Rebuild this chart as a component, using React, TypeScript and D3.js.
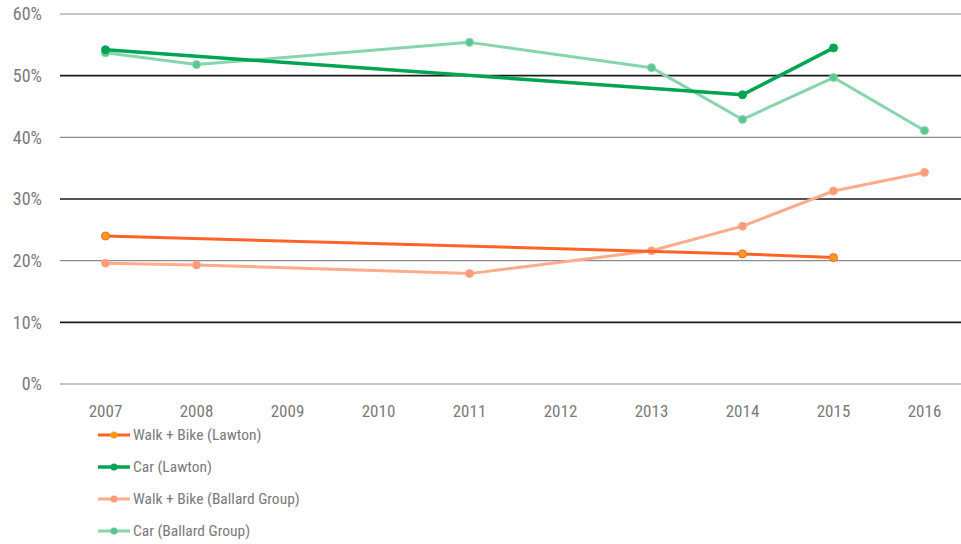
import React, { useEffect, useRef } from "react";
import * as d3 from "d3";

const years = ["2007", "2008", "2009", "2010", "2011", "2012", "2013", "2014", "2015", "2016"];
const yTicks = [0, 0.1, 0.2, 0.3, 0.4, 0.5, 0.6];

// null = no survey that year
const walkBikeLawton = [0.24, null, null, null, null, null, null, 0.211, 0.205, null];
const carLawton = [0.542, null, null, null, null, null, null, 0.469, 0.545, null];
const walkBikeBallard = [0.196, 0.193, null, null, 0.179, null, 0.216, 0.256, 0.313, 0.343];
const carBallard = [0.537, 0.518, null, null, 0.554, null, 0.513, 0.429, 0.497, 0.411];

interface ISeries {
    name: string;
    values: (number | null)[];
    line: string;
    marker: string;
    width: number;
}

const series: ISeries[] = [
    { name: "Walk + Bike (Lawton)", values: walkBikeLawton, line: "#ff6426", marker: "#ff9a1a", width: 3 },
    { name: "Car (Lawton)", values: carLawton, line: "#00a552", marker: "#00a552", width: 3.5 },
    { name: "Walk + Bike (Ballard Group)", values: walkBikeBallard, line: "#ffab8c", marker: "#ff9a78", width: 3 },
    { name: "Car (Ballard Group)", values: carBallard, line: "#86d5ad", marker: "#5cc690", width: 3 },
];

const width = 961;
const height = 544;
const fontFamily = "'Roboto Condensed', 'Liberation Sans Narrow', 'DejaVu Sans Condensed', Roboto, sans-serif";

export default function App(): React.ReactElement {
    const svgRef = useRef<SVGSVGElement>(null);

    useEffect(() => {
        const svg = d3.select(svgRef.current);
        svg.selectAll("*").remove();

        const x = d3.scalePoint<string>().domain(years).range([60, 970]).padding(0.5);
        const y = d3.scaleLinear().domain([0, 0.6]).range([384, 14]);

        // Grid lines, alternating grey / black
        svg.append("g")
            .selectAll("line")
            .data(yTicks)
            .enter()
            .append("line")
            .attr("x1", 60)
            .attr("x2", 970)
            .attr("y1", (d) => y(d))
            .attr("y2", (d) => y(d))
            .attr("stroke", (d, i) => (i % 2 === 1 ? "#1a1a1a" : "#8c8c8c"))
            .attr("stroke-width", (d, i) => (i % 2 === 1 ? 1.6 : 1.2));

        svg.append("g")
            .selectAll("text")
            .data(yTicks)
            .enter()
            .append("text")
            .attr("x", 42)
            .attr("y", (d) => y(d))
            .attr("dy", "0.35em")
            .attr("text-anchor", "end")
            .attr("fill", "#7a7a7a")
            .style("font-family", fontFamily)
            .style("font-size", "18px")
            .text((d) => d3.format(".0%")(d));

        svg.append("g")
            .selectAll("text")
            .data(years)
            .enter()
            .append("text")
            .attr("x", (d) => x(d) as number)
            .attr("y", 411)
            .attr("dy", "0.35em")
            .attr("text-anchor", "middle")
            .attr("fill", "#7a7a7a")
            .style("font-family", fontFamily)
            .style("font-size", "17px")
            .text((d) => d);

        const line = d3.line<[string, number]>()
            .x((d) => x(d[0]) as number)
            .y((d) => y(d[1]));

        // draw Ballard first so Lawton lines sit on top
        const order = [3, 2, 1, 0];
        order.forEach((idx) => {
            const s = series[idx];
            const pts = years
                .map((yr, i) => [yr, s.values[i]] as [string, number | null])
                .filter((p) => p[1] !== null) as [string, number][];

            svg.append("path")
                .datum(pts)
                .attr("fill", "none")
                .attr("stroke", s.line)
                .attr("stroke-width", s.width)
                .attr("stroke-linejoin", "round")
                .attr("d", line);

            svg.append("g")
                .selectAll("circle")
                .data(pts)
                .enter()
                .append("circle")
                .attr("cx", (d) => x(d[0]) as number)
                .attr("cy", (d) => y(d[1]))
                .attr("r", 4)
                .attr("fill", s.marker)
                .attr("stroke", s.line)
                .attr("stroke-width", 1);
        });

        // Legend
        const legend = svg.append("g");
        series.forEach((s, i) => {
            const ly = 435 + i * 32;
            legend.append("line")
                .attr("x1", 98)
                .attr("x2", 130)
                .attr("y1", ly)
                .attr("y2", ly)
                .attr("stroke", s.line)
                .attr("stroke-width", s.width);
            legend.append("circle")
                .attr("cx", 114)
                .attr("cy", ly)
                .attr("r", 3.5)
                .attr("fill", s.marker);
            legend.append("text")
                .attr("x", 133)
                .attr("y", ly)
                .attr("dy", "0.35em")
                .attr("fill", "#7a7a7a")
                .style("font-family", fontFamily)
                .style("font-size", "15.5px")
                .text(s.name);
        });
    }, []);

    return (
        <svg
            ref={svgRef}
            width={width}
            height={height}
            style={{ position: "absolute", left: 0, top: 0, background: "#fff" }}
        />
    );
}
